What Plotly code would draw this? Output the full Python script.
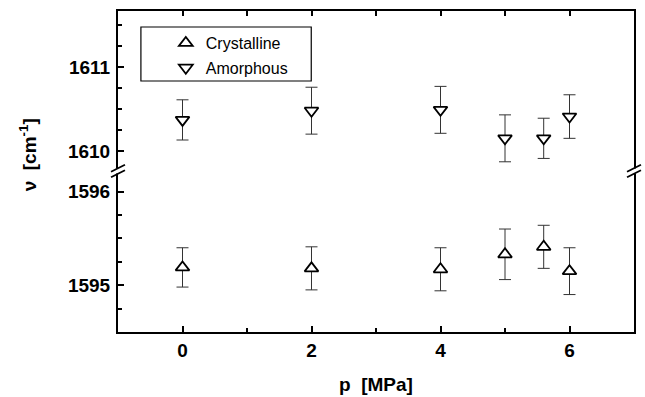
import plotly.graph_objects as go

# Raman band position vs. pressure, crystalline and amorphous phases
pressure = [0, 2, 4, 5, 5.6, 6]
nu_crystalline = [1595.19, 1595.18, 1595.17, 1595.33, 1595.41, 1595.15]
err_crystalline = [0.21, 0.23, 0.23, 0.27, 0.23, 0.25]
nu_amorphous = [1610.37, 1610.48, 1610.49, 1610.15, 1610.15, 1610.41]
err_amorphous = [0.24, 0.28, 0.28, 0.28, 0.24, 0.26]

x_ticks = [0, 2, 4, 6]
upper_ticks = [1610, 1611]
lower_ticks = [1595, 1596]

W, H = 645, 397
L, R, T, B = 118, 9, 11, 65
PW, PH = W - L - R, H - T - B
BREAK_PX = 171  # vertical pixel of the axis break


def px_x(x):
    return (x - L) / PW


def px_y(y):
    return (H - B - y) / PH


split = px_y(BREAK_PX)
FONT = "Liberation Sans, Arial, sans-serif"

fig = go.Figure()

marker_common = dict(size=12, color="white", line=dict(color="black", width=1.8))
err_common = dict(type="data", visible=True, thickness=1, width=6, color="#333333")

fig.add_trace(go.Scatter(
    x=pressure, y=nu_crystalline, mode="markers", name="Crystalline",
    marker=dict(symbol="triangle-up", **marker_common),
    error_y=dict(array=err_crystalline, **err_common),
    xaxis="x", yaxis="y", legendgroup="c",
))
fig.add_trace(go.Scatter(
    x=pressure, y=nu_amorphous, mode="markers", name="Amorphous",
    marker=dict(symbol="triangle-down", **marker_common),
    error_y=dict(array=err_amorphous, **err_common),
    xaxis="x2", yaxis="y2", legendgroup="a",
))

tickfont = dict(family=FONT, size=19, color="black", weight="bold")
axis_line = dict(showline=True, linecolor="black", linewidth=2, showgrid=False,
                 zeroline=False)

fig.update_layout(
    width=W, height=H,
    margin=dict(l=L, r=R, t=T, b=B),
    paper_bgcolor="white", plot_bgcolor="white",
    showlegend=True,
    legend=dict(x=px_x(166), y=px_y(26), xanchor="left", yanchor="top",
                bgcolor="rgba(0,0,0,0)", borderwidth=0,
                font=dict(family=FONT, size=16, color="black"),
                tracegroupgap=1),
    xaxis=dict(range=[-1, 7], domain=[0, 1], anchor="y",
               tickvals=x_ticks, ticks="inside", ticklen=6, tickwidth=1.5,
               tickcolor="black", tickfont=tickfont,
               minor=dict(dtick=1, tick0=0, ticks="inside", ticklen=4,
                          tickwidth=1.5, tickcolor="black"),
               mirror=False, **axis_line),
    xaxis2=dict(range=[-1, 7], domain=[0, 1], anchor="y2", side="top",
                matches="x", tickvals=x_ticks, ticks="inside", ticklen=5,
                tickwidth=1.5, tickcolor="black", showticklabels=False,
                minor=dict(dtick=1, tick0=0, ticks="inside", ticklen=5,
                           tickwidth=1.5, tickcolor="black"),
                mirror=False, **axis_line),
    yaxis=dict(range=[1594.5, 1596.22], domain=[0, split], anchor="x",
               tickvals=lower_ticks, ticks="inside", ticklen=6, tickwidth=1.5,
               tickcolor="black", tickfont=tickfont, tickformat="d",
               ticklabelstandoff=2,
               minor=dict(dtick=0.25, tick0=0, ticks="inside", ticklen=4,
                          tickwidth=1.5, tickcolor="black"),
               mirror=True, **axis_line),
    yaxis2=dict(range=[1609.76, 1611.67], domain=[split, 1], anchor="x2",
                tickvals=upper_ticks, ticks="inside", ticklen=6, tickwidth=1.5,
                tickcolor="black", tickfont=tickfont, tickformat="d",
                ticklabelstandoff=2,
                minor=dict(dtick=0.25, tick0=0, ticks="inside", ticklen=4,
                           tickwidth=1.5, tickcolor="black"),
                mirror=True, **axis_line),
)

# Axis titles
fig.add_annotation(text="p  [MPa]", xref="paper", yref="paper",
                   x=px_x(377), y=px_y(385), xanchor="center", yanchor="middle",
                   showarrow=False,
                   font=dict(family=FONT, size=19, color="black", weight="bold"))
fig.add_annotation(text="ν  [cm<sup>-1</sup>]", xref="paper", yref="paper",
                   x=px_x(28), y=px_y(155), xanchor="center", yanchor="middle",
                   showarrow=False, textangle=-90,
                   font=dict(family=FONT, size=19, color="black", weight="bold"))

shapes = []
# Legend frame
shapes.append(dict(type="rect", xref="paper", yref="paper",
                   x0=px_x(141), x1=px_x(312), y0=px_y(81), y1=px_y(27),
                   line=dict(color="black", width=1.2)))
# Axis break marks on both vertical axes
for ax_x in (L, W - R):
    shapes.append(dict(type="rect", xref="paper", yref="paper",
                       x0=px_x(ax_x - 3), x1=px_x(ax_x + 3),
                       y0=px_y(BREAK_PX + 2.5), y1=px_y(BREAK_PX - 2.5),
                       fillcolor="white", line=dict(width=0)))
    for dy in (-2.8, 2.8):
        yc = BREAK_PX + dy
        shapes.append(dict(type="line", xref="paper", yref="paper",
                           x0=px_x(ax_x - 7), y0=px_y(yc + 3.5),
                           x1=px_x(ax_x + 7), y1=px_y(yc - 3.5),
                           line=dict(color="black", width=1.8)))
fig.update_layout(shapes=shapes)

fig.write_html("out.html")
